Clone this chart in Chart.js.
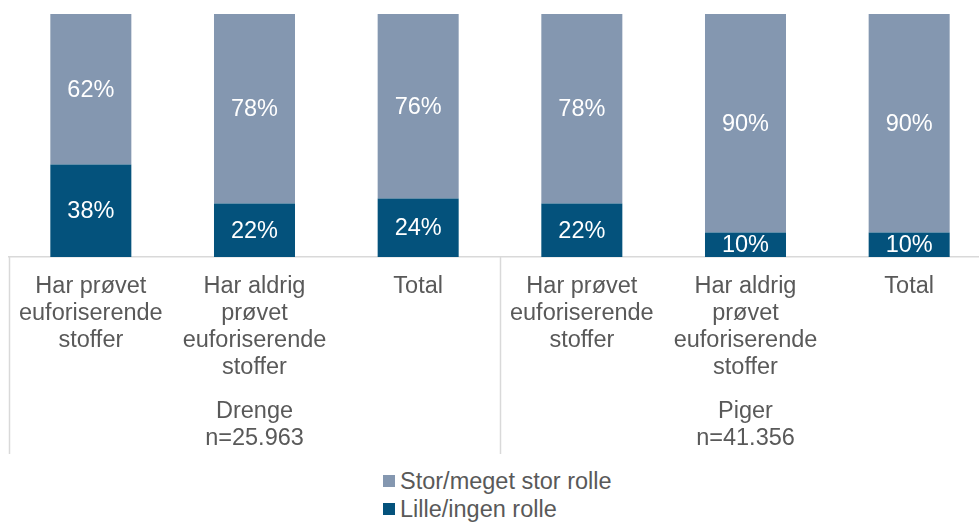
<!DOCTYPE html>
<html lang="da">
<head>
<meta charset="utf-8">
<title>Rolle - drenge og piger</title>
<script src="https://cdn.jsdelivr.net/npm/chart.js@4/dist/chart.umd.min.js"></script>
<style>
    html, body {
        margin: 0;
        padding: 0;
        background: #ffffff;
        overflow: hidden;
        font-family: "Liberation Sans", Arial, sans-serif;
    }
    #wrap {
        position: relative;
        width: 991px;
        height: 460px;
    }
    #legend {
        position: absolute;
        left: 383px;
        top: 467px;
        margin: 0;
        padding: 0;
        list-style: none;
        font-size: 23.5px;
        color: #595959;
    }
    #legend li {
        display: flex;
        align-items: center;
        height: 28px;
    }
    #legend .box {
        width: 12px;
        height: 12px;
        margin-right: 5px;
    }
</style>
</head>
<body>
<div id="wrap"><canvas id="rolleChart"></canvas></div>
<ul id="legend"></ul>

<script>
const categories = [
    ['Har prøvet', 'euforiserende', 'stoffer'],
    ['Har aldrig', 'prøvet', 'euforiserende', 'stoffer'],
    ['Total'],
    ['Har prøvet', 'euforiserende', 'stoffer'],
    ['Har aldrig', 'prøvet', 'euforiserende', 'stoffer'],
    ['Total']
];
const lilleRolle = [38, 22, 24, 22, 10, 10];
const storRolle = [62, 78, 76, 78, 90, 90];
const groupNames = [['Drenge', 'n=25.963'], ['Piger', 'n=41.356']];
const groupSize = 3;

const textColor = '#595959';
const lineColor = '#d9d9d9';
const fontFamily = '"Liberation Sans", Arial, sans-serif';

// white percentages in the middle of each segment
const segmentLabels = {
    id: 'segmentLabels',
    afterDatasetsDraw(chart) {
        const ctx = chart.ctx;
        ctx.save();
        ctx.fillStyle = '#ffffff';
        ctx.font = '23.5px ' + fontFamily;
        ctx.textAlign = 'center';
        ctx.textBaseline = 'middle';
        chart.data.datasets.forEach((ds, i) => {
            chart.getDatasetMeta(i).data.forEach((bar, j) => {
                const p = bar.getProps(['x', 'y', 'base'], true);
                ctx.fillText(ds.data[j] + '%', p.x, (p.y + p.base) / 2 + 1);
            });
        });
        ctx.restore();
    }
};

// separators between groups and the group captions under the axis
const groupAxis = {
    id: 'groupAxis',
    afterDraw(chart) {
        const ctx = chart.ctx;
        const x = chart.scales.x;
        const top = chart.chartArea.bottom;
        const step = x.getPixelForValue(1) - x.getPixelForValue(0);
        ctx.save();
        ctx.strokeStyle = lineColor;
        ctx.lineWidth = 1.5;
        for (let g = 0; g <= groupNames.length; g++) {
            const sx = Math.round(x.getPixelForValue(g * groupSize) - step / 2) + 0.5;
            ctx.beginPath();
            ctx.moveTo(sx, top);
            ctx.lineTo(sx, 454);
            ctx.stroke();
        }
        ctx.fillStyle = textColor;
        ctx.font = '23.5px ' + fontFamily;
        ctx.textAlign = 'center';
        ctx.textBaseline = 'middle';
        groupNames.forEach((lines, g) => {
            const cx = x.getPixelForValue(g * groupSize + 1);
            lines.forEach((t, k) => ctx.fillText(t, cx, 412 + k * 27));
        });
        ctx.restore();
    }
};

const chart = new Chart(document.getElementById('rolleChart'), {
    type: 'bar',
    data: {
        labels: categories,
        datasets: [
            {
                label: 'Lille/ingen rolle',
                data: lilleRolle,
                backgroundColor: '#04527c'
            },
            {
                label: 'Stor/meget stor rolle',
                data: storRolle,
                backgroundColor: '#8497b0'
            }
        ]
    },
    options: {
        responsive: true,
        maintainAspectRatio: false,
        animation: false,
        layout: {
            padding: { left: 9, right: 0, top: 14, bottom: 63 }
        },
        datasets: {
            bar: {
                categoryPercentage: 1,
                barPercentage: 0.495
            }
        },
        scales: {
            x: {
                stacked: true,
                grid: { display: false, drawTicks: false },
                border: { display: true, color: lineColor, width: 1.5 },
                ticks: {
                    color: textColor,
                    font: { family: fontFamily, size: 23.5, lineHeight: 1.15 },
                    padding: 16,
                    maxRotation: 0,
                    autoSkip: false
                }
            },
            y: {
                stacked: true,
                display: false,
                min: 0,
                max: 100
            }
        },
        plugins: {
            legend: { display: false },
            tooltip: { enabled: false }
        }
    },
    plugins: [segmentLabels, groupAxis]
});

// legend list, top entry first like the stacking order
const legend = document.getElementById('legend');
chart.data.datasets.slice().reverse().forEach(ds => {
    const li = document.createElement('li');
    li.innerHTML = `<span class="box" style="background:${ds.backgroundColor}"></span>${ds.label}`;
    legend.appendChild(li);
});
</script>
</body>
</html>
